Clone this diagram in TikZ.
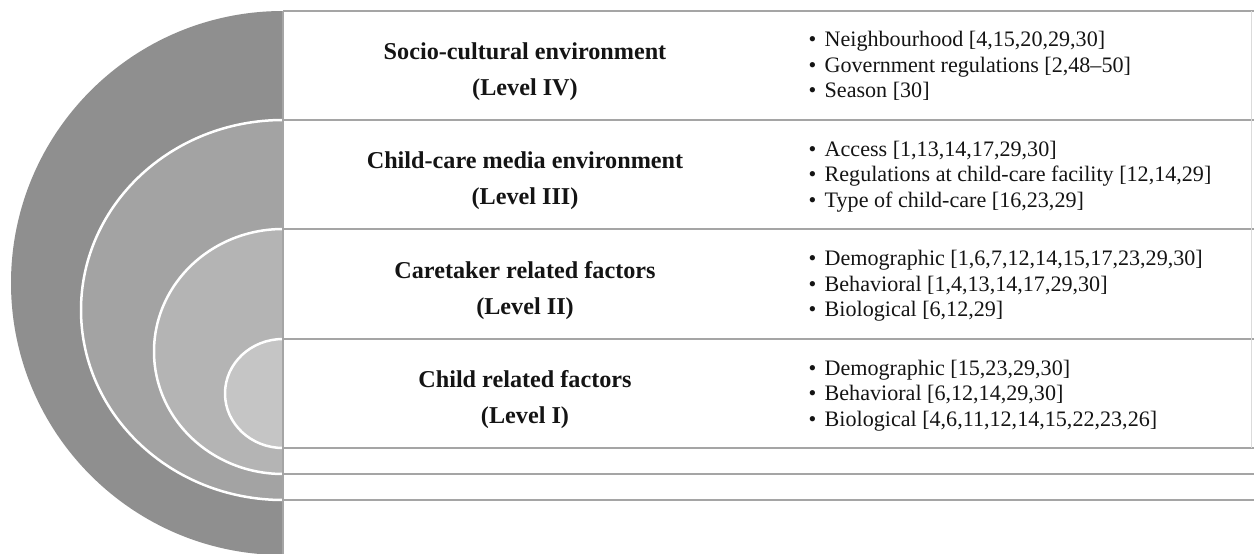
\documentclass[tikz,border=0pt]{standalone}
\usepackage{fontspec}
\setmainfont{Liberation Serif}
\definecolor{gA}{RGB}{143,143,143}
\definecolor{gB}{RGB}{163,163,163}
\definecolor{gC}{RGB}{180,180,180}
\definecolor{gD}{RGB}{197,197,197}
\definecolor{rowline}{RGB}{165,165,165}
\definecolor{txt}{RGB}{20,20,20}
\begin{document}
\begin{tikzpicture}[x=1pt,y=-1pt,
  ring/.style={draw=white,line width=2.5pt},
  sep/.style={draw=rowline,line width=1.5pt},
  head/.style={anchor=base,inner sep=0pt,text=txt,font=\fontsize{24.2}{28}\selectfont\bfseries},
  item/.style={anchor=base west,inner sep=0pt,text=txt,font=\fontsize{22.1}{26}\selectfont}]
\useasboundingbox (0,0) rectangle (1254,554);
\begin{scope}
  \clip (0,0) rectangle (283,554);
  \fill[gA] (283,283) ellipse[x radius=272,y radius=272];
  \fill[gB] (283,310) ellipse[x radius=202,y radius=190];
  \draw[ring] (283,310) ellipse[x radius=202,y radius=190];
  \fill[gC] (283,351.5) ellipse[x radius=129,y radius=122.5];
  \draw[ring] (283,351.5) ellipse[x radius=129,y radius=122.5];
  \fill[gD] (283,393.5) ellipse[x radius=58,y radius=54.5];
  \draw[ring] (283,393.5) ellipse[x radius=58,y radius=54.5];
\end{scope}
% row separators
\foreach \yy in {11,120,229,339,448,474,500}
  \draw[sep] (283,\yy) -- (1254,\yy);
\draw[sep] (283,11) -- (283,554);
\draw[draw=rowline!40,line width=1pt] (1251,11) -- (1251,448);
% headings
\node[head] (h1a) at (525,59) {Socio-cultural environment};
\node[head] (h1b) at (525,95) {(Level IV)};
\node[head] (h2a) at (525,168.5) {Child-care media environment};
\node[head] (h2b) at (525,204.5) {(Level III)};
\node[head] (h3a) at (525,278) {Caretaker related factors};
\node[head] (h3b) at (525,314) {(Level II)};
\node[head] (h4a) at (525,387.5) {Child related factors};
\node[head] (h4b) at (525,423.5) {(Level I)};
% items
\newcommand{\bul}{\makebox[17.5pt][l]{\hspace{1.5pt}\textbullet}}
\node[item] (i1a) at (807,46.5) {\bul Neighbourhood [4,15,20,29,30]};
\node[item] (i1b) at (807,72.2) {\bul Government regulations [2,48–50]};
\node[item] (i1c) at (807,97.9) {\bul Season [30]};
\node[item] (i2a) at (807,156) {\bul Access [1,13,14,17,29,30]};
\node[item] (i2b) at (807,181.7) {\bul Regulations at child-care facility [12,14,29]};
\node[item] (i2c) at (807,207.4) {\bul Type of child-care [16,23,29]};
\node[item] (i3a) at (807,265.5) {\bul Demographic [1,6,7,12,14,15,17,23,29,30]};
\node[item] (i3b) at (807,291.2) {\bul Behavioral [1,4,13,14,17,29,30]};
\node[item] (i3c) at (807,316.9) {\bul Biological [6,12,29]};
\node[item] (i4a) at (807,375) {\bul Demographic [15,23,29,30]};
\node[item] (i4b) at (807,400.7) {\bul Behavioral [6,12,14,29,30]};
\node[item] (i4c) at (807,426.4) {\bul Biological [4,6,11,12,14,15,22,23,26]};
\end{tikzpicture}
\end{document}
